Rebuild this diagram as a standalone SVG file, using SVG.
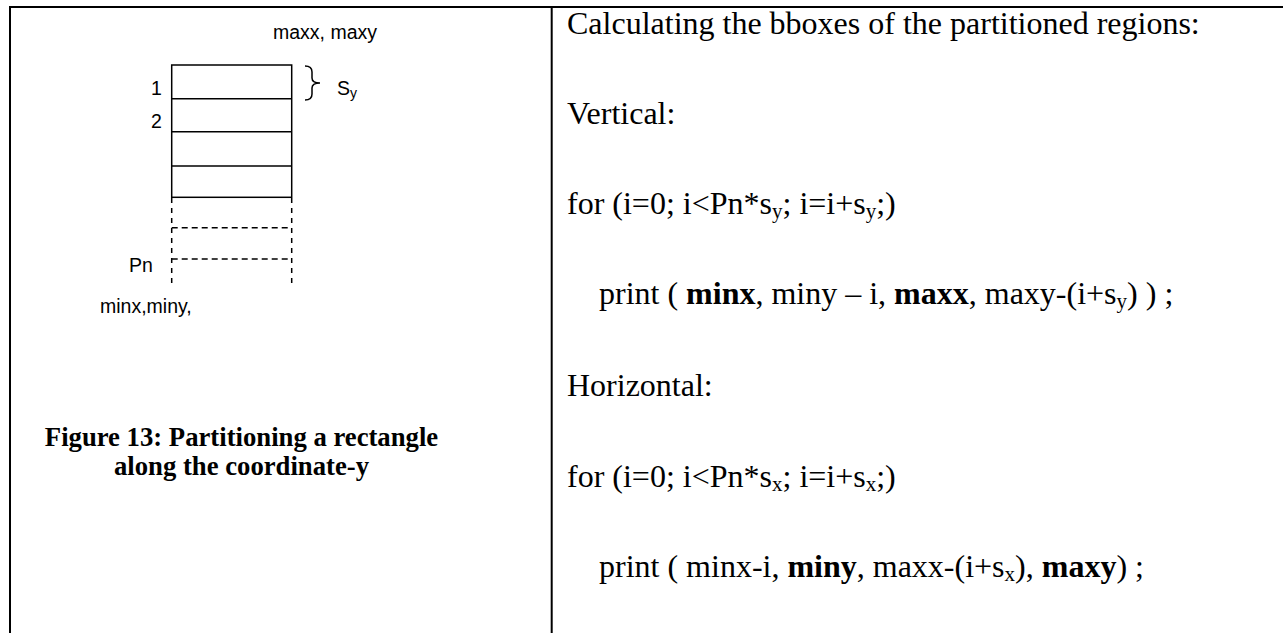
<svg xmlns="http://www.w3.org/2000/svg" width="1283" height="633" viewBox="0 0 1283 633">
<style>
.frame{stroke:#000;stroke-width:2;fill:none}
.solid{stroke:#000;stroke-width:1.5;fill:none}
.dash{stroke:#000;stroke-width:1.5;fill:none;stroke-dasharray:6 4}
.lbl{font-family:"Liberation Sans",Arial,sans-serif;font-size:19.5px;fill:#000}
.cap{font-family:"Liberation Serif","Times New Roman",serif;font-size:26.7px;font-weight:bold;fill:#000;text-anchor:middle}
.body{font-family:"Liberation Serif","Times New Roman",serif;font-size:32px;fill:#000}
.b{font-weight:bold}
.sub{font-size:21px}
</style>
<rect width="1283" height="633" fill="#fff"/>
<g id="table">
<line class="frame" x1="9" y1="7" x2="1283" y2="7"/>
<line class="frame" x1="10" y1="6" x2="10" y2="633"/>
<line class="frame" x1="551.7" y1="6" x2="551.7" y2="633"/>
</g>
<g id="partitioned-rectangle">
<rect class="solid" x="171.7" y="65" width="120" height="132.3"/>
<line class="solid" x1="171.7" y1="98.7" x2="291.7" y2="98.7"/>
<line class="solid" x1="171.7" y1="131.7" x2="291.7" y2="131.7"/>
<line class="solid" x1="171.7" y1="166" x2="291.7" y2="166"/>
<line class="dash" x1="171.7" y1="198" x2="171.7" y2="287" style="stroke-dasharray:5 5"/>
<line class="dash" x1="291.7" y1="198" x2="291.7" y2="287" style="stroke-dasharray:5 5"/>
<line class="dash" x1="171.7" y1="227.7" x2="291.7" y2="227.7"/>
<line class="dash" x1="171.7" y1="259" x2="291.7" y2="259"/>
</g>
<g id="connectors">
<path class="solid" d="M305,66 Q312,66 312,72 L312,78 Q312,83 320,83 Q312,83 312,88 L312,94 Q312,100 305,100"/>
</g>
<g id="labels">
<text class="lbl" x="273" y="39">maxx, maxy</text>
<text class="lbl" x="151" y="95">1</text>
<text class="lbl" x="151" y="128">2</text>
<text class="lbl" x="337" y="95">S<tspan font-size="14" dy="3">y</tspan></text>
<text class="lbl" x="129" y="272">Pn</text>
<text class="lbl" x="100" y="313">minx,miny,</text>
</g>
<g id="caption">
<text class="cap" x="241.5" y="445.7">Figure 13: Partitioning a rectangle</text>
<text class="cap" x="241.5" y="475">along the coordinate-y</text>
</g>
<g id="code">
<text class="body" x="567" y="34">Calculating the bboxes of the partitioned regions:</text>
<text class="body" x="567" y="124">Vertical:</text>
<text class="body" x="567" y="214">for (i=0; i&lt;Pn*s<tspan class="sub" dy="4">y</tspan><tspan dy="-4">; i=i+s</tspan><tspan class="sub" dy="4">y</tspan><tspan dy="-4">;)</tspan></text>
<text class="body" x="599" y="304">print ( <tspan class="b">minx</tspan>, miny – i, <tspan class="b">maxx</tspan>, maxy-(i+s<tspan class="sub" dy="4">y</tspan><tspan dy="-4">) ) ;</tspan></text>
<text class="body" x="567" y="396">Horizontal:</text>
<text class="body" x="567" y="487">for (i=0; i&lt;Pn*s<tspan class="sub" dy="4">x</tspan><tspan dy="-4">; i=i+s</tspan><tspan class="sub" dy="4">x</tspan><tspan dy="-4">;)</tspan></text>
<text class="body" x="599" y="577">print ( minx-i, <tspan class="b">miny</tspan>, maxx-(i+s<tspan class="sub" dy="4">x</tspan><tspan dy="-4">), </tspan><tspan class="b">maxy</tspan>) ;</text>
</g>
</svg>
